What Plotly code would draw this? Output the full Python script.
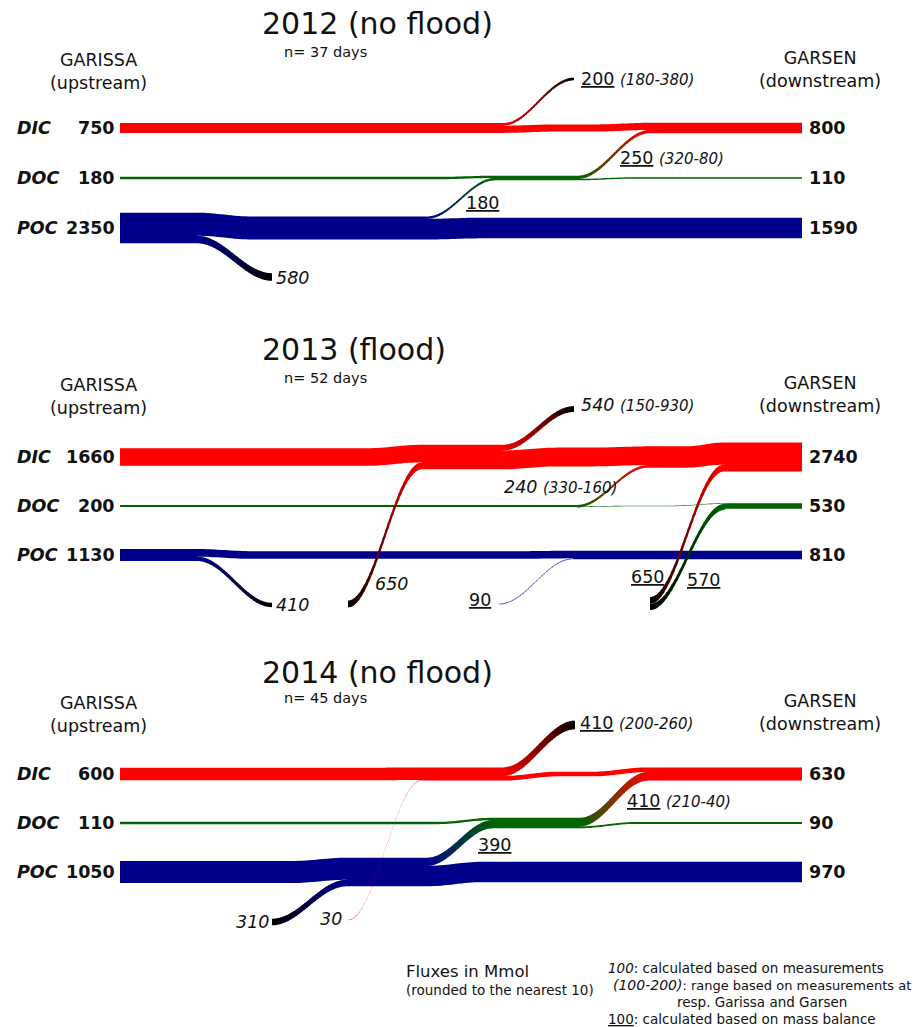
import math
import plotly.graph_objects as go

# ---------------- data ----------------
years = ["2012 (no flood)", "2013 (flood)", "2014 (no flood)"]
n_days = [37, 52, 45]
species = ["DIC", "DOC", "POC"]
upstream_station = ["GARISSA", "(upstream)"]
downstream_station = ["GARSEN", "(downstream)"]

# carbon fluxes (Mmol) entering at Garissa and leaving at Garsen, per species
flux_garissa = [[750, 180, 2350], [1660, 200, 1130], [600, 110, 1050]]
flux_garsen = [[800, 110, 1590], [2740, 530, 810], [630, 90, 970]]

# exchanges along the reach: (from, to, flux, range, basis); None = outside the river
exchanges_2012 = [
    ("POC", None, 580, "", "measured"),
    ("POC", "DOC", 180, "", "balance"),
    ("DIC", None, 200, "180-380", "balance"),
    ("DOC", "DIC", 250, "320-80", "balance"),
]
exchanges_2013 = [
    ("POC", None, 410, "", "measured"),
    (None, "DIC", 650, "", "measured"),
    ("DIC", None, 540, "150-930", "measured"),
    (None, "POC", 90, "", "balance"),
    ("DOC", "DIC", 240, "330-160", "measured"),
    (None, "DIC", 650, "", "balance"),
    (None, "DOC", 570, "", "balance"),
]
exchanges_2014 = [
    (None, "POC", 310, "", "measured"),
    (None, "DIC", 30, "", "measured"),
    ("POC", "DOC", 390, "", "balance"),
    ("DIC", None, 410, "200-260", "balance"),
    ("DOC", "DIC", 410, "210-40", "balance"),
]
exchanges = [exchanges_2012, exchanges_2013, exchanges_2014]

legend_lines = [
    "<i>100</i>: calculated based on measurements",
    "<span style='font-size:14px'><i>(100-200)</i></span>: range based on measurements at",
    "resp. Garissa and Garsen",
    "<u>100</u>: calculated based on mass balance",
]

# ---------------- layout / style ----------------
W, H = 918, 1027
FONT = "DejaVu Sans"
INK = "#111111"
ROW_Y = [[128, 178, 228], [457, 506, 555], [774, 823, 872]]
PX_PER_MMOL = [0.013, 0.0106, 0.021]
X_IN, X_OUT = 120, 802
BLEND = 55
MIN_T = 0.6
TITLE_Y = [23, 349, 672]
SUB_Y = [52, 378, 698]
STATION_Y = [71, 396, 714]
COLORS = {"DIC": (255, 0, 0), "DOC": (0, 100, 0), "POC": (0, 0, 139)}
OUTSIDE = (0, 0, 0)

# routing of each exchange: x leaving, x arriving, y of the open end,
# label x, label y, label anchor
ROUTES = [
    [(197, 272, 277, 274, 278, "left"),
     (427, 495, None, 464, 203, "left"),
     (503, 574, 79, 579, 79, "left"),
     (578, 650, None, 618, 158, "left")],
    [(197, 272, 605, 274, 605, "left"),
     (348, 422, 604, 373, 584, "left"),
     (503, 574, 409, 579, 405, "left"),
     (499, 573, 604, 493, 600, "right"),
     (577, 648, None, 502, 487, "left"),
     (650, 724, 600.5, 666, 577, "right"),
     (650, 725, 607, 685, 580, "left")],
    [(272, 347, 922, 271, 922, "right"),
     (348, 422, 920, 344, 919, "right"),
     (427, 493, None, 476, 845, "left"),
     (503, 575, 725, 578, 723, "left"),
     (580, 648, None, 625, 801, "left")],
]


def ease(t):
    t = min(max(t, 0.0), 1.0)
    return 0.5 - 0.5 * math.cos(math.pi * t)


def rgb(c):
    return "rgb({},{},{})".format(*[int(round(v)) for v in c])


def lerp(c0, c1, t):
    return tuple(a + (b - a) * t for a, b in zip(c0, c1))


def path_of(pts):
    return "M " + " L ".join(f"{x:.2f},{y:.2f}" for x, y in pts) + " Z"


shapes = []
annotations = []


def add_text(x, y, text, size, anchor="left", bold=False, italic=False):
    if bold:
        text = f"<b>{text}</b>"
    if italic:
        text = f"<i>{text}</i>"
    annotations.append(dict(
        x=x, y=y, xref="x", yref="y", text=text, showarrow=False,
        xanchor=anchor, yanchor="middle",
        font=dict(family=FONT, size=size, color=INK)))


def band_shape(tops, bots, color):
    pts = tops + bots[::-1]
    shapes.append(dict(type="path", xref="x", yref="y", path=path_of(pts),
                       fillcolor=rgb(color), line=dict(width=0), layer="above"))


def link_shapes(xa, xb, sa, sb, c0, c1, opacity=1.0, n=28, sub=3):
    span = xb - xa
    for i in range(n):
        u0 = i / n
        u1 = min((i + 1) / n + 0.9 / span, 1.0)
        top, bot = [], []
        for j in range(sub + 1):
            u = u0 + (u1 - u0) * j / sub
            x = xa + span * u
            e = ease(u)
            top.append((x, sa[0] + (sb[0] - sa[0]) * e))
            bot.append((x, sa[1] + (sb[1] - sa[1]) * e))
        col = lerp(c0, c1, (i + 0.5) / n)
        shapes.append(dict(type="path", xref="x", yref="y",
                           path=path_of(top + bot[::-1]), opacity=opacity,
                           fillcolor=rgb(col), line=dict(width=0), layer="above"))


def centred(yc, t):
    return (yc - t / 2, yc + t / 2)


def segment(tops, bots, xa, xb, start, mid, end):
    """Band edges from xa to xb: ease start->mid after xa, mid->end before xb."""
    w = min(BLEND, (xb - xa) / 2)
    n = 16
    for s in range(n + 1):
        x = xa + w * s / n
        e = ease(s / n)
        tops.append((x, start[0] + (mid[0] - start[0]) * e))
        bots.append((x, start[1] + (mid[1] - start[1]) * e))
    for s in range(n + 1):
        x = xb - w + w * s / n
        e = ease(s / n)
        tops.append((x, mid[0] + (end[0] - mid[0]) * e))
        bots.append((x, mid[1] + (end[1] - mid[1]) * e))


for p in range(3):
    k = PX_PER_MMOL[p]
    ys = dict(zip(species, ROW_Y[p]))
    flows = []
    for (src, dst, val, rng, basis), (xa, xb, yfree, lx, ly, anc) in zip(exchanges[p], ROUTES[p]):
        flows.append(dict(src=src, dst=dst, val=val, rng=rng, basis=basis,
                          xa=xa, xb=xb, yfree=yfree, lx=lx, ly=ly, anc=anc, w=val * k))

    # river bands, one per species, split and joined by the exchanges
    for i, sp in enumerate(species):
        yc = ys[sp]
        events = []
        for f in flows:
            if f["src"] == sp:
                other = ys[f["dst"]] if f["dst"] else f["yfree"]
                events.append((f["xa"], -1, "top" if other < yc else "bottom", f))
            if f["dst"] == sp:
                other = ys[f["src"]] if f["src"] else f["yfree"]
                events.append((f["xb"], 1, "top" if other < yc else "bottom", f))
        events.sort(key=lambda e: e[0])

        # running totals after each exchange; the last one is the Garsen flux
        totals = []
        v = flux_garissa[p][i]
        for j, (x, sign, side, f) in enumerate(events):
            v += sign * f["val"]
            totals.append(flux_garsen[p][i] if j == len(events) - 1 else max(v, 0))
        thick = [max(t * k, MIN_T) for t in totals]
        thick_in = max(flux_garissa[p][i] * k, MIN_T)

        tops, bots = [], []
        state = centred(yc, thick_in)       # edges right after the previous point
        mid = state
        x_prev = X_IN
        for j, (x, sign, side, f) in enumerate(events):
            a = f["w"]
            if sign > 0:
                # make room so that the joined band ends up centred
                after = centred(yc, thick[j])
                if side == "bottom":
                    pre = (after[0], max(after[1] - a, after[0] + MIN_T))
                    f["dst_slice"] = (pre[1], pre[1] + a)
                else:
                    pre = (min(after[0] + a, after[1] - MIN_T), after[1])
                    f["dst_slice"] = (pre[0] - a, pre[0])
                segment(tops, bots, x_prev, x, state, mid, pre)
                state = after
            else:
                pre = mid
                segment(tops, bots, x_prev, x, state, mid, pre)
                rest = max((pre[1] - pre[0]) - a, MIN_T)
                if side == "top":
                    f["src_slice"] = (pre[0], pre[0] + a)
                    state = (pre[1] - rest, pre[1])
                else:
                    f["src_slice"] = (pre[1] - a, pre[1])
                    state = (pre[0], pre[0] + rest)
            mid = centred(yc, thick[j])
            x_prev = x
        segment(tops, bots, x_prev, X_OUT, state, mid, mid)
        band_shape(tops, bots, COLORS[sp])

    # exchange ribbons on top of the bands
    for f in flows:
        a = f["w"]
        if f["src"]:
            sa = f["src_slice"]
            c0 = COLORS[f["src"]]
        else:
            sa = (f["yfree"] - a / 2, f["yfree"] + a / 2)
            c0 = OUTSIDE
        if f["dst"]:
            sb = f["dst_slice"]
            c1 = COLORS[f["dst"]]
        else:
            sb = (f["yfree"] - a / 2, f["yfree"] + a / 2)
            c1 = OUTSIDE
        thin = a < 1.2
        if thin:
            c0 = c1 = COLORS[f["dst"] or f["src"]]
        link_shapes(f["xa"], f["xb"], sa, sb, c0, c1, opacity=0.55 if thin else 1.0)

        num = f"<i>{f['val']}</i>" if f["basis"] == "measured" else f"<u>{f['val']}</u>"
        if f["rng"]:
            num += f" <span style='font-size:15px'><i>({f['rng']})</i></span>"
        add_text(f["lx"], f["ly"], num, 17.5, anchor=f["anc"])

    # headings
    add_text(260, TITLE_Y[p], years[p], 30)
    add_text(282, SUB_Y[p], f"n= {n_days[p]} days", 14.5)
    add_text(98, STATION_Y[p], "<br>".join(upstream_station), 17.5, anchor="center")
    add_text(820, STATION_Y[p] - 1.5, "<br>".join(downstream_station), 17.5, anchor="center")

    # species names and fluxes at both stations
    for i, sp in enumerate(species):
        add_text(15, ys[sp], sp, 17.5, bold=True, italic=True)
        add_text(117, ys[sp], str(flux_garissa[p][i]), 17.5, anchor="right", bold=True)
        add_text(807, ys[sp], str(flux_garsen[p][i]), 17.5, bold=True)

# footer notes
add_text(404, 971, "Fluxes in Mmol", 16.5)
add_text(404, 990, "(rounded to the nearest 10)", 13.5)
add_text(606, 968, legend_lines[0], 13.5)
add_text(611, 985, legend_lines[1], 13)
add_text(762, 1002, legend_lines[2], 13.5, anchor="center")
add_text(606, 1019, legend_lines[3], 13.5)

fig = go.Figure()
fig.update_layout(
    width=W, height=H,
    margin=dict(l=0, r=0, t=0, b=0),
    paper_bgcolor="white", plot_bgcolor="white",
    xaxis=dict(range=[0, W], visible=False, fixedrange=True),
    yaxis=dict(range=[H, 0], visible=False, fixedrange=True),
    showlegend=False,
    shapes=shapes,
    annotations=annotations,
    hovermode=False,
)
fig.write_html("out.html", config={"displayModeBar": False})
